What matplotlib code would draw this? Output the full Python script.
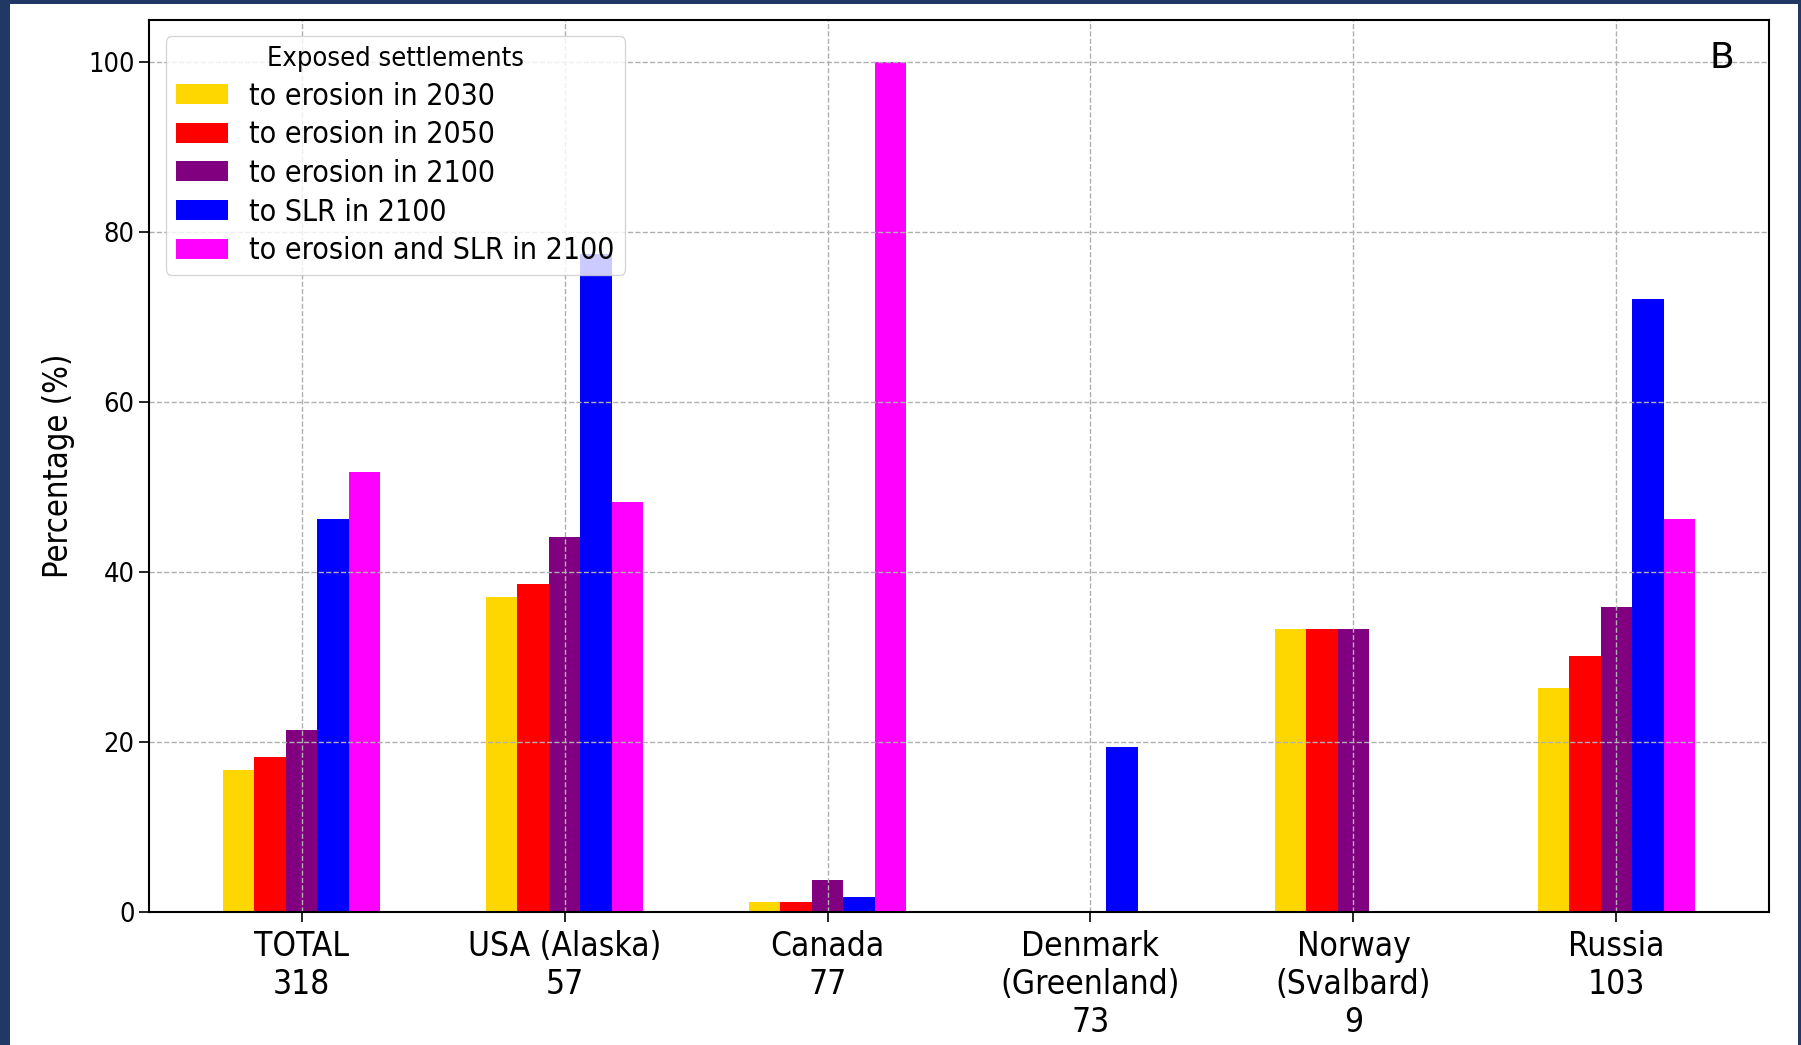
"""Exposed Arctic settlements by country, bar chart recreation."""

import matplotlib

matplotlib.use("Agg")
import matplotlib.pyplot as plt
import numpy as np
from matplotlib.patches import Rectangle

countries = ["TOTAL\n318", "USA (Alaska)\n57", "Canada\n77",
             "Denmark\n(Greenland)\n73", "Norway\n(Svalbard)\n9", "Russia\n103"]
series_names = ["to erosion in 2030", "to erosion in 2050", "to erosion in 2100",
                "to SLR in 2100", "to erosion and SLR in 2100"]
erosion_2030 = [16.7, 37.1, 1.2, 0.0, 33.3, 26.3]
erosion_2050 = [18.2, 38.6, 1.2, 0.0, 33.3, 30.1]
erosion_2100 = [21.4, 44.1, 3.8, 0.0, 33.3, 35.9]
slr_2100 = [46.2, 77.4, 1.8, 19.4, 0.0, 72.1]
erosion_slr_2100 = [51.8, 48.2, 100.0, 0.0, 0.0, 46.2]
colors = ["gold", "red", "purple", "blue", "magenta"]

plt.rcParams["font.family"] = "DejaVu Sans"
plt.rcParams["font.stretch"] = "condensed"

fig = plt.figure(figsize=(18.01, 10.45), dpi=100, facecolor="#203864")
fig.patches.append(Rectangle((10 / 1801, 0), 1788 / 1801, 1 - 4 / 1045,
                             transform=fig.transFigure, facecolor="white",
                             edgecolor="none", zorder=-10))
ax = fig.add_axes([149 / 1801, 1 - 912 / 1045, 1620 / 1801, 892.5 / 1045])

x = np.arange(len(countries))
width = 0.12
values = [erosion_2030, erosion_2050, erosion_2100, slr_2100, erosion_slr_2100]
for i, (vals, name, color) in enumerate(zip(values, series_names, colors)):
    ax.bar(x + (i - 2) * width, vals, width, color=color, label=name)

ax.set_xticks(x)
ax.set_xticklabels(countries, fontsize=24, linespacing=1.2)
ax.tick_params(axis="x", pad=6)
ax.tick_params(axis="y", labelsize=19.5)
ax.tick_params(axis="both", length=7, width=1.2)
ax.set_ylabel("Percentage (%)", fontsize=23.5, labelpad=9)
ax.grid(True, linestyle="--", color="#b0b0b0", linewidth=1)
for s in ax.spines.values():
    s.set_linewidth(1.5)

ax.text(0.971, 0.957, "B", transform=ax.transAxes, ha="center", va="center",
        fontsize=26, fontstretch="normal")
leg = ax.legend(title="Exposed settlements", loc="upper left", fontsize=21.7,
                title_fontsize=19.5, labelspacing=0.32, handlelength=1.75,
                handleheight=0.65, handletextpad=0.7, borderpad=0.33,
                borderaxespad=0.55)

fig.savefig("out.png", dpi=100, facecolor=fig.get_facecolor())
